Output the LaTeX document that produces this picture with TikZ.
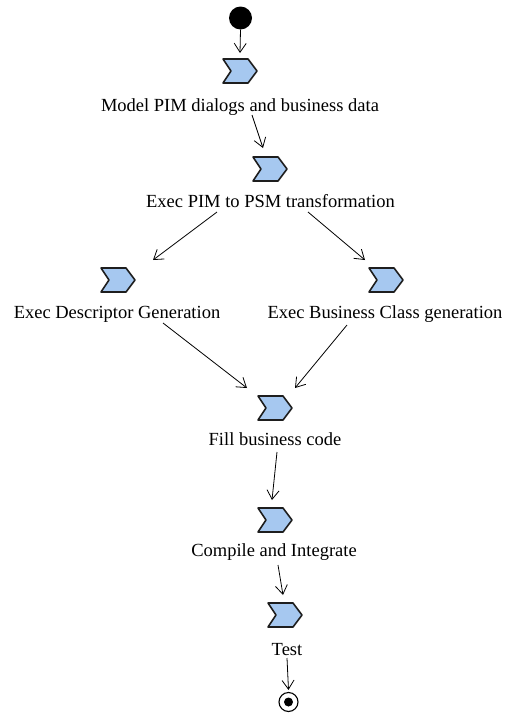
\documentclass[tikz,border=0pt]{standalone}
\usepackage{fontspec}
\setmainfont{Liberation Serif}
\usetikzlibrary{arrows.meta,calc}
\definecolor{actfill}{RGB}{166,200,240}
\definecolor{actline}{RGB}{30,30,30}
\begin{document}
\begin{tikzpicture}[x=1pt,y=-1pt,
  lbl/.style={font=\fontsize{18.5}{22}\selectfont, inner sep=0pt, anchor=base},
  act/.style={minimum width=36pt, minimum height=26pt, inner sep=0pt, outer sep=0pt},
  arr/.style={line width=0.8pt, -{Straight Barb[length=9pt,width=12pt,line width=0.8pt]}},
  icon/.style={fill=actfill, draw=actline, line width=1.6pt, line join=round}]
\useasboundingbox (0,0) rectangle (505,715);

\node[circle, fill=black, minimum size=23pt, inner sep=0pt] (s) at (240.5,18) {};

\node[act] (a1) at (240,71) {};
\node[lbl] (l1) at (240,111) {Model PIM dialogs and business data};
\node[act] (a2) at (270,169) {};
\node[lbl] (l2) at (270.5,207) {Exec PIM to PSM transformation};
\node[act] (a3) at (118,280) {};
\node[lbl] (l3) at (117,318) {Exec Descriptor Generation};
\node[act] (a4) at (386,280) {};
\node[lbl] (l4) at (385,318) {Exec Business Class generation};
\node[act] (a5) at (275,408) {};
\node[lbl] (l5) at (275,445) {Fill business code};
\node[act] (a6) at (275,520) {};
\node[lbl] (l6) at (274,556) {Compile and Integrate};
\node[act] (a7) at (285,615) {};
\node[lbl] (l7) at (287,655) {Test};

\node[circle, draw=black, line width=1.1pt, minimum size=19pt, inner sep=0pt] (e) at (288.5,702) {};
\node[circle, fill=black, minimum size=9pt, inner sep=0pt] (ed) at (e.center) {};

\foreach \n in {a1,a2,a3,a4,a5,a6,a7}{
  \draw[icon] ([shift={(1,1)}]\n.north west) -- ([shift={(26,1)}]\n.north west)
    -- ([shift={(35,13)}]\n.north west) -- ([shift={(26,25)}]\n.north west)
    -- ([shift={(1,25)}]\n.north west) -- ([shift={(9,13)}]\n.north west) -- cycle;
}

\draw[arr] (s.south) -- ([yshift=5pt]a1.north);
\draw[arr] ([shift={(12,4)}]l1.base) -- ([shift={(-7,-21)}]a2.center);
\draw[arr] ([shift={(-53.5,5)}]l2.base) -- ([shift={(35,-20)}]a3.center);
\draw[arr] ([shift={(37.5,5)}]l2.base) -- ([shift={(-21,-20)}]a4.center);
\draw[arr] ([shift={(46,5)}]l3.base) -- ([shift={(-28,-20)}]a5.center);
\draw[arr] ([shift={(-38,7)}]l4.base) -- ([shift={(20,-20)}]a5.center);
\draw[arr] ([shift={(2,7)}]l5.base) -- ([shift={(-3,-20)}]a6.center);
\draw[arr] ([shift={(4,9)}]l6.base) -- ([shift={(-2,-20)}]a7.center);
\draw[arr] ([shift={(0,3)}]l7.base) -- ([yshift=2pt]e.north);
\end{tikzpicture}
\end{document}
